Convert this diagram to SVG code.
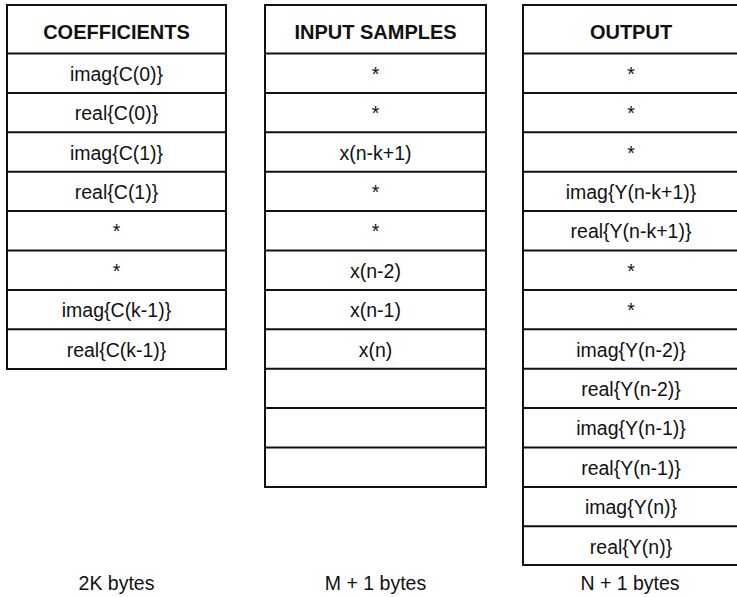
<svg xmlns="http://www.w3.org/2000/svg" width="737" height="597" viewBox="0 0 737 597">
<style>
.box{fill:#fff;stroke:#111;stroke-width:2}
.sep{stroke:#111;stroke-width:2}
.hd{font-family:"Liberation Sans",Arial,sans-serif;font-weight:bold;font-size:20px;text-anchor:middle;fill:#111}
.t{font-family:"Liberation Sans",Arial,sans-serif;font-size:19.5px;text-anchor:middle;fill:#111}
</style>
<rect width="737" height="597" fill="#fff"/>
<g id="coefficients">
<rect class="box" x="7" y="5" width="219" height="364"/>
<line class="sep" x1="7" y1="53.5" x2="226" y2="53.5" stroke-width="2.5"/>
<line class="sep" x1="7" y1="92.9" x2="226" y2="92.9"/>
<line class="sep" x1="7" y1="132.3" x2="226" y2="132.3"/>
<line class="sep" x1="7" y1="171.7" x2="226" y2="171.7"/>
<line class="sep" x1="7" y1="211.1" x2="226" y2="211.1"/>
<line class="sep" x1="7" y1="250.5" x2="226" y2="250.5"/>
<line class="sep" x1="7" y1="289.9" x2="226" y2="289.9"/>
<line class="sep" x1="7" y1="329.3" x2="226" y2="329.3"/>
<text class="hd" x="116.5" y="38.5">COEFFICIENTS</text>
<text class="t" x="116.5" y="80.7">imag{C(0)}</text>
<text class="t" x="116.5" y="120.1">real{C(0)}</text>
<text class="t" x="116.5" y="159.5">imag{C(1)}</text>
<text class="t" x="116.5" y="198.9">real{C(1)}</text>
<text class="t" x="116.5" y="238.3">*</text>
<text class="t" x="116.5" y="277.7">*</text>
<text class="t" x="116.5" y="317.1">imag{C(k-1)}</text>
<text class="t" x="116.5" y="356.5">real{C(k-1)}</text>
</g>
<g id="input-samples">
<rect class="box" x="265" y="5" width="221" height="482"/>
<line class="sep" x1="265" y1="53.5" x2="486" y2="53.5" stroke-width="2.5"/>
<line class="sep" x1="265" y1="92.9" x2="486" y2="92.9"/>
<line class="sep" x1="265" y1="132.3" x2="486" y2="132.3"/>
<line class="sep" x1="265" y1="171.7" x2="486" y2="171.7"/>
<line class="sep" x1="265" y1="211.1" x2="486" y2="211.1"/>
<line class="sep" x1="265" y1="250.5" x2="486" y2="250.5"/>
<line class="sep" x1="265" y1="289.9" x2="486" y2="289.9"/>
<line class="sep" x1="265" y1="329.3" x2="486" y2="329.3"/>
<line class="sep" x1="265" y1="368.7" x2="486" y2="368.7"/>
<line class="sep" x1="265" y1="408.1" x2="486" y2="408.1"/>
<line class="sep" x1="265" y1="447.5" x2="486" y2="447.5"/>
<text class="hd" x="375.5" y="38.5">INPUT SAMPLES</text>
<text class="t" x="375.5" y="80.7">*</text>
<text class="t" x="375.5" y="120.1">*</text>
<text class="t" x="375.5" y="159.5">x(n-k+1)</text>
<text class="t" x="375.5" y="198.9">*</text>
<text class="t" x="375.5" y="238.3">*</text>
<text class="t" x="375.5" y="277.7">x(n-2)</text>
<text class="t" x="375.5" y="317.1">x(n-1)</text>
<text class="t" x="375.5" y="356.5">x(n)</text>
</g>
<g id="output">
<rect class="box" x="523" y="5" width="218" height="560"/>
<line class="sep" x1="523" y1="53.5" x2="741" y2="53.5" stroke-width="2.5"/>
<line class="sep" x1="523" y1="92.9" x2="741" y2="92.9"/>
<line class="sep" x1="523" y1="132.3" x2="741" y2="132.3"/>
<line class="sep" x1="523" y1="171.7" x2="741" y2="171.7"/>
<line class="sep" x1="523" y1="211.1" x2="741" y2="211.1"/>
<line class="sep" x1="523" y1="250.5" x2="741" y2="250.5"/>
<line class="sep" x1="523" y1="289.9" x2="741" y2="289.9"/>
<line class="sep" x1="523" y1="329.3" x2="741" y2="329.3"/>
<line class="sep" x1="523" y1="368.7" x2="741" y2="368.7"/>
<line class="sep" x1="523" y1="408.1" x2="741" y2="408.1"/>
<line class="sep" x1="523" y1="447.5" x2="741" y2="447.5"/>
<line class="sep" x1="523" y1="486.9" x2="741" y2="486.9"/>
<line class="sep" x1="523" y1="526.3" x2="741" y2="526.3"/>
<text class="hd" x="631" y="38.5">OUTPUT</text>
<text class="t" x="631" y="80.7">*</text>
<text class="t" x="631" y="120.1">*</text>
<text class="t" x="631" y="159.5">*</text>
<text class="t" x="631" y="198.9">imag{Y(n-k+1)}</text>
<text class="t" x="631" y="238.3">real{Y(n-k+1)}</text>
<text class="t" x="631" y="277.7">*</text>
<text class="t" x="631" y="317.1">*</text>
<text class="t" x="631" y="356.5">imag{Y(n-2)}</text>
<text class="t" x="631" y="395.9">real{Y(n-2)}</text>
<text class="t" x="631" y="435.3">imag{Y(n-1)}</text>
<text class="t" x="631" y="474.7">real{Y(n-1)}</text>
<text class="t" x="631" y="514.1">imag{Y(n)}</text>
<text class="t" x="631" y="553.5">real{Y(n)}</text>
</g>
<g id="connectors"/>
<g id="labels">
<text class="t" x="116.5" y="590">2K bytes</text>
<text class="t" x="375.5" y="590">M + 1 bytes</text>
<text class="t" x="630" y="590">N + 1 bytes</text>
</g>
</svg>
